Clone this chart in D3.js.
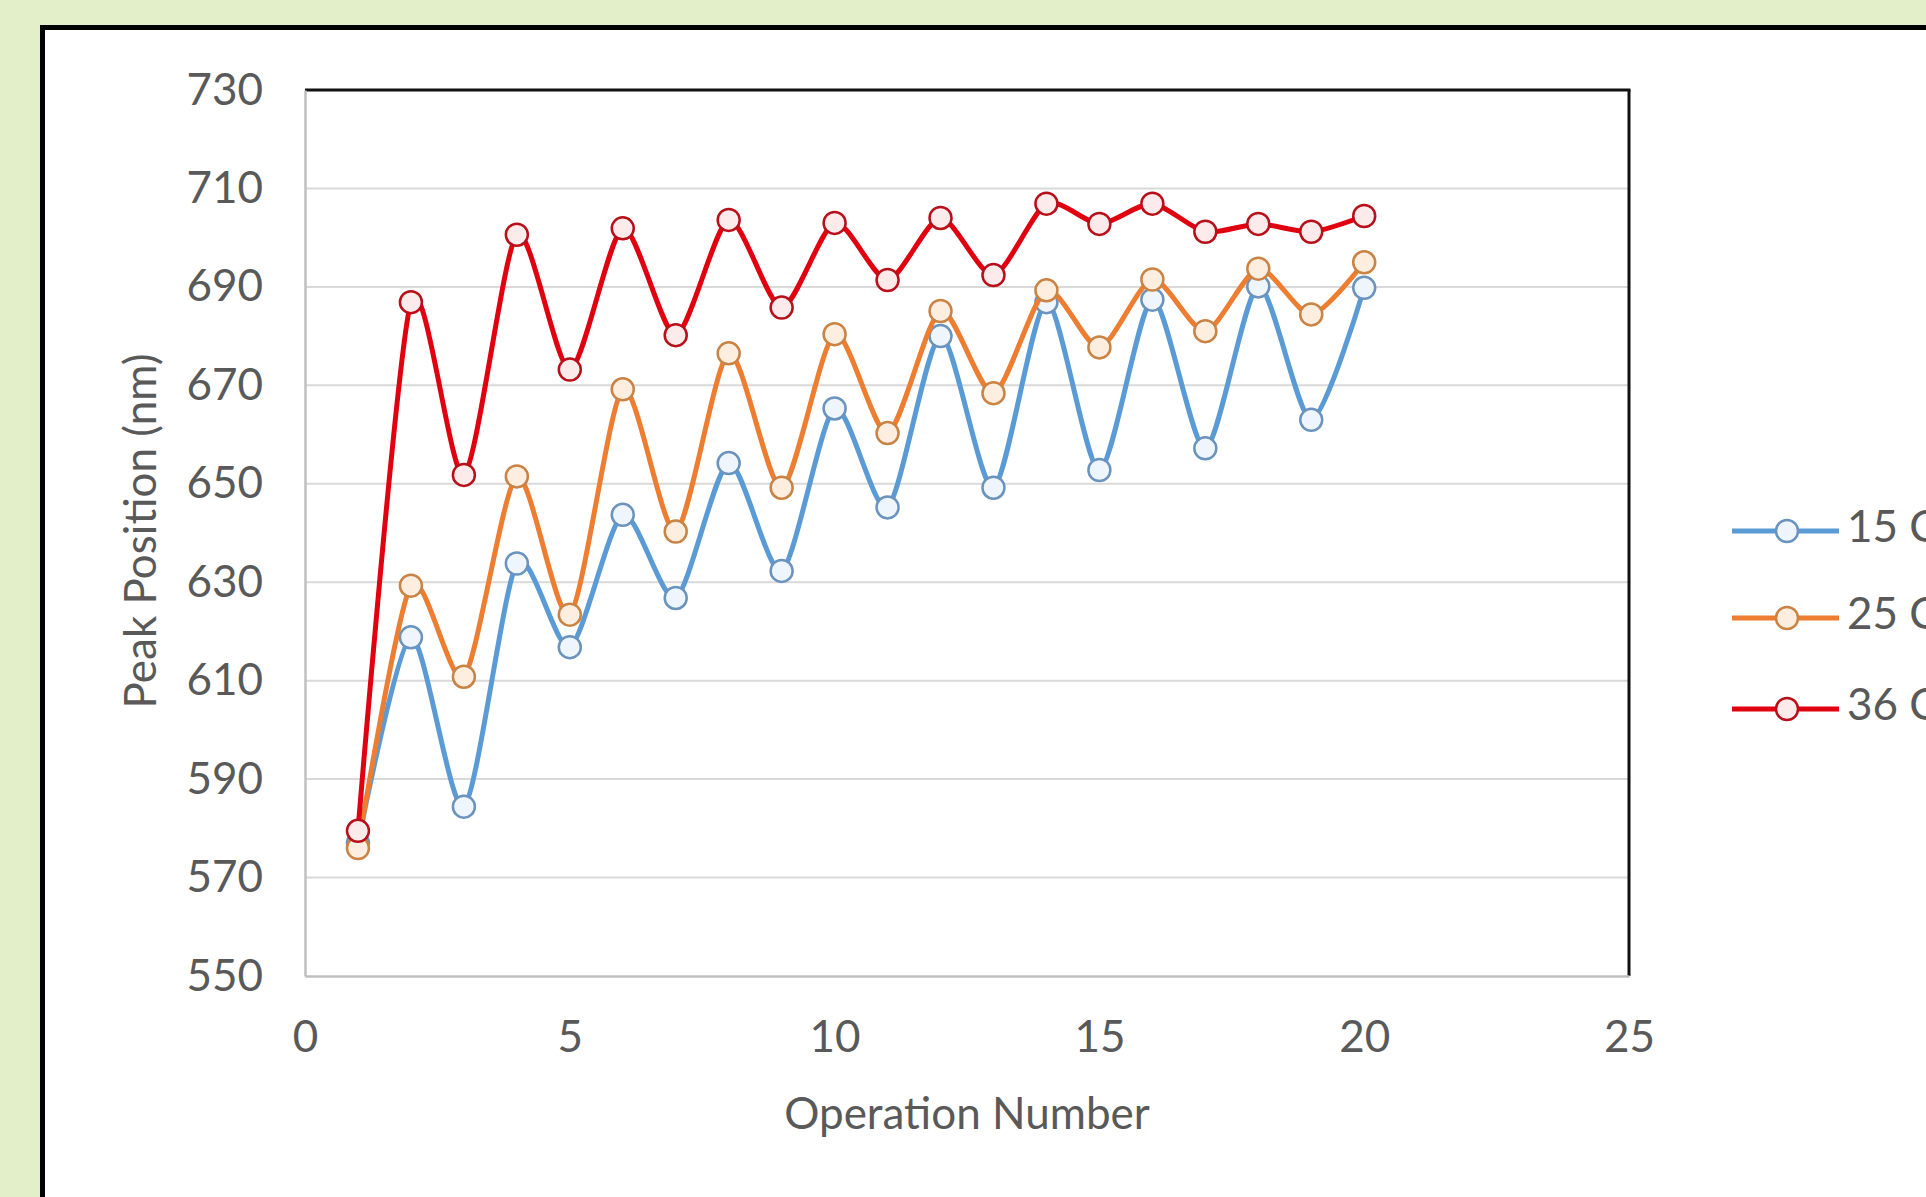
<!DOCTYPE html>
<html>
<head>
<meta charset="utf-8">
<script src="https://cdn.jsdelivr.net/npm/d3@7"></script>
<style>
  body { margin: 0; background: #e2efc9; }
  text { font-family: Lato, "Open Sans", sans-serif; fill: #595959; }
</style>
</head>
<body>
<div id="chart"></div>
<script>
// operation numbers on the x axis
const operations = d3.range(1, 21);
const seriesNames = ["15 C", "25 C", "36 C"];
const peak15 = [577.0, 618.8, 584.4, 633.8, 616.8, 643.7, 626.8, 654.2, 632.3, 665.3,
                645.2, 680.0, 649.2, 686.9, 652.8, 687.4, 657.2, 690.1, 663.0, 689.8];
const peak25 = [576.0, 629.3, 610.8, 651.5, 623.4, 669.2, 640.3, 676.5, 649.2, 680.4,
                660.3, 685.1, 668.4, 689.3, 677.7, 691.5, 681.0, 693.7, 684.4, 695.0];
const peak36 = [579.5, 686.9, 651.8, 700.6, 673.2, 701.9, 680.2, 703.6, 685.8, 703.0,
                691.4, 704.0, 692.4, 706.9, 702.8, 706.9, 701.2, 702.8, 701.2, 704.4];
const xTicks = [0, 5, 10, 15, 20, 25];
const yTicks = [550, 570, 590, 610, 630, 650, 670, 690, 710, 730];

const width = 1926, height = 1197;
const plot = { left: 305, right: 1629, top: 90, bottom: 976 };

const colors = ["#5b9bd5", "#ed7d31", "#e0000f"];
const markerFill = ["#eef5fc", "#fdeedf", "#fdeaea"];
const markerStroke = ["#6a93bd", "#c98445", "#b8101a"];

const svg = d3.select("#chart").append("svg")
  .attr("width", width)
  .attr("height", height);

svg.append("rect").attr("width", width).attr("height", height).attr("fill", "#e2efc9");

// white frame with heavy black border (runs off the right/bottom edges)
svg.append("rect")
  .attr("x", 42.5).attr("y", 27.5)
  .attr("width", 2000).attr("height", 1300)
  .attr("fill", "#ffffff")
  .attr("stroke", "#000")
  .attr("stroke-width", 5);

const x = d3.scaleLinear().domain([0, 25]).range([plot.left, plot.right]);
const y = d3.scaleLinear().domain([550, 730]).range([plot.bottom, plot.top]);

// gridlines
svg.append("g")
  .selectAll("line")
  .data(yTicks.filter(v => v > 550 && v < 730))
  .enter().append("line")
  .attr("x1", plot.left).attr("x2", plot.right)
  .attr("y1", d => y(d)).attr("y2", d => y(d))
  .attr("stroke", "#d9d9d9")
  .attr("stroke-width", 2);

// plot area border: black top/right, grey axis lines left/bottom
svg.append("line")
  .attr("x1", plot.left).attr("x2", plot.right + 1.5)
  .attr("y1", plot.top).attr("y2", plot.top)
  .attr("stroke", "#111").attr("stroke-width", 3);
svg.append("line")
  .attr("x1", plot.right).attr("x2", plot.right)
  .attr("y1", plot.top).attr("y2", plot.bottom)
  .attr("stroke", "#111").attr("stroke-width", 3);

const yAxis = svg.append("g")
  .attr("transform", `translate(${plot.left},0)`)
  .call(d3.axisLeft(y).tickValues(yTicks).tickSize(0).tickPadding(42));
const xAxis = svg.append("g")
  .attr("transform", `translate(0,${plot.bottom})`)
  .call(d3.axisBottom(x).tickValues(xTicks).tickSize(0).tickPadding(45));

[yAxis, xAxis].forEach(g => {
  g.select(".domain").attr("stroke", "#bfbfbf").attr("stroke-width", 2.5);
  g.selectAll("text")
    .attr("font-size", 44)
    .attr("fill", "#595959")
    .style("font-family", "Lato, 'Open Sans', sans-serif");
});

svg.append("text")
  .attr("x", 967).attr("y", 1118)
  .attr("text-anchor", "middle")
  .attr("dominant-baseline", "middle")
  .attr("font-size", 44)
  .text("Operation Number");

svg.append("text")
  .attr("transform", "translate(145,531) rotate(-90)")
  .attr("text-anchor", "middle")
  .attr("dominant-baseline", "middle")
  .attr("font-size", 44)
  .text("Peak Position (nm)");

const series = [peak15, peak25, peak36].map((vals, i) => ({
  name: seriesNames[i],
  points: vals.map((v, j) => ({ op: operations[j], v: v }))
}));

// Excel-style smoothed line
const line = d3.line()
  .x(d => x(d.op))
  .y(d => y(d.v))
  .curve(d3.curveCardinal.tension(0.25));

const groups = svg.selectAll(".series")
  .data(series)
  .enter().append("g")
  .attr("class", "series");

groups.append("path")
  .attr("d", d => line(d.points))
  .attr("fill", "none")
  .attr("stroke", (d, i) => colors[i])
  .attr("stroke-width", 5)
  .attr("stroke-linejoin", "round");

groups.each(function(d, i) {
  d3.select(this).selectAll("circle")
    .data(d.points)
    .enter().append("circle")
    .attr("cx", p => x(p.op))
    .attr("cy", p => y(p.v))
    .attr("r", 11)
    .attr("fill", markerFill[i])
    .attr("stroke", markerStroke[i])
    .attr("stroke-width", 2.5);
});

// legend (text runs off the right edge, as in the source screenshot)
const legendY = [531, 618, 709];
const legend = svg.selectAll(".legend")
  .data(series)
  .enter().append("g")
  .attr("class", "legend")
  .attr("transform", (d, i) => `translate(1732,${legendY[i]})`);

legend.append("line")
  .attr("x1", 0).attr("x2", 107)
  .attr("stroke", (d, i) => colors[i])
  .attr("stroke-width", 5);
legend.append("circle")
  .attr("cx", 55).attr("r", 11)
  .attr("fill", (d, i) => markerFill[i])
  .attr("stroke", (d, i) => markerStroke[i])
  .attr("stroke-width", 2.5);
legend.append("text")
  .attr("x", 115)
  .attr("dominant-baseline", "middle")
  .attr("font-size", 44)
  .text(d => d.name);
</script>
</body>
</html>
